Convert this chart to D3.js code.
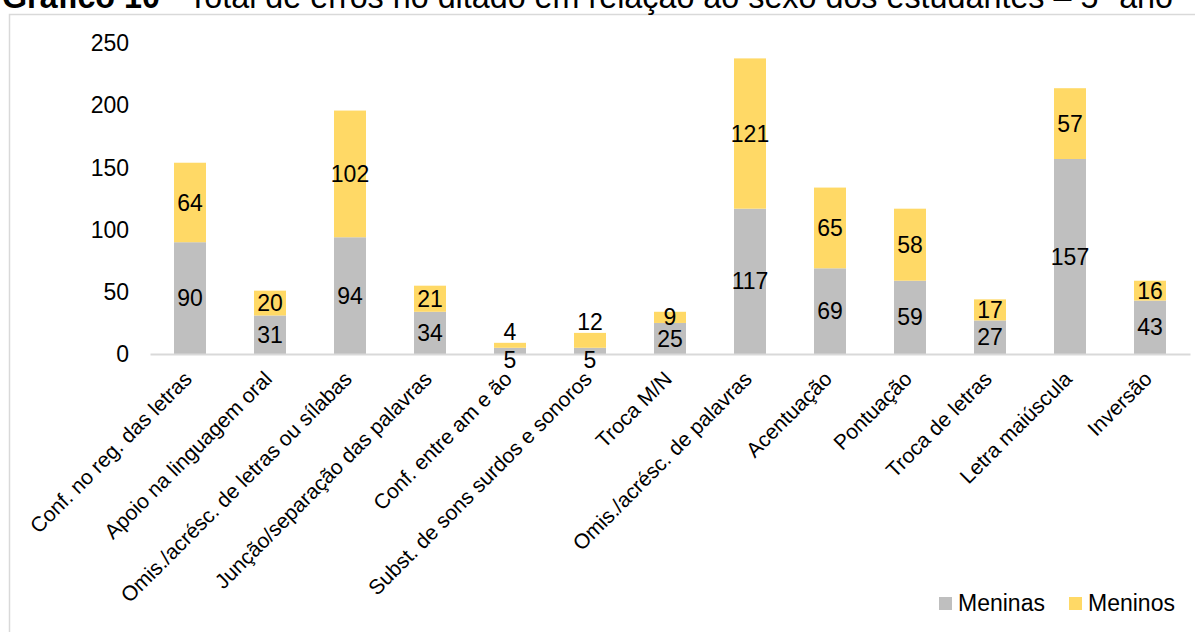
<!DOCTYPE html>
<html lang="pt">
<head>
<meta charset="utf-8">
<script src="https://cdn.jsdelivr.net/npm/d3@7"></script>
<style>
  html, body { margin: 0; padding: 0; background: #fff; }
  svg { display: block; font-family: "Liberation Sans", Arial, sans-serif; }
</style>
</head>
<body>
<svg id="chart" width="1195" height="632"></svg>
<script>
// Tipos de erro no ditado (eixo das categorias)
const categories = [
  "Conf. no reg. das letras",
  "Apoio na linguagem oral",
  "Omis./acrésc. de letras ou sílabas",
  "Junção/separação das palavras",
  "Conf. entre am e ão",
  "Subst. de sons surdos e sonoros",
  "Troca M/N",
  "Omis./acrésc. de palavras",
  "Acentuação",
  "Pontuação",
  "Troca de letras",
  "Letra maiúscula",
  "Inversão"
];
// Número de erros por sexo
const meninas = [90, 31, 94, 34, 5, 5, 25, 117, 69, 59, 27, 157, 43];
const meninos = [64, 20, 102, 21, 4, 12, 9, 121, 65, 58, 17, 57, 16];
const seriesNames = ["Meninas", "Meninos"];
const yTicks = [0, 50, 100, 150, 200, 250];

const colors = { Meninas: "#bfbfbf", Meninos: "#ffd966" };

const svg = d3.select("#chart");

// moldura da área do gráfico
svg.append("rect")
  .attr("x", 9.5).attr("y", 14.5)
  .attr("width", 1300).attr("height", 700)
  .attr("fill", "none").attr("stroke", "#d9d9d9").attr("stroke-width", 1.5);

// título
const title = svg.append("text")
  .attr("x", 2).attr("y", 8)
  .attr("font-size", 32.3).attr("fill", "#000");
title.append("tspan").attr("font-weight", "bold").text("Gráfico 10");
title.append("tspan").attr("fill", "#a6a6a6").text(" - ");
title.append("tspan").text("Total de erros no ditado em relação ao sexo dos estudantes – 5º ano");

const x = d3.scaleBand()
  .domain(categories)
  .range([150, 1190])
  .paddingInner(0.6)
  .paddingOuter(0.3);

const y = d3.scaleLinear()
  .domain([0, 250])
  .range([354, 43.5]);

const rows = categories.map((c, i) => ({ cat: c, Meninas: meninas[i], Meninos: meninos[i] }));
const stacked = d3.stack().keys(seriesNames)(rows);

// barras empilhadas
const layers = svg.append("g").selectAll("g")
  .data(stacked).join("g")
  .attr("fill", d => colors[d.key]);

layers.selectAll("rect")
  .data(d => d).join("rect")
  .attr("x", d => x(d.data.cat))
  .attr("y", d => y(d[1]))
  .attr("width", x.bandwidth())
  .attr("height", d => y(d[0]) - y(d[1]));

// eixo Y
const yAxis = svg.append("g")
  .attr("transform", "translate(150,0)")
  .call(d3.axisLeft(y).tickValues(yTicks).tickSize(0).tickPadding(21));
yAxis.select(".domain").remove();
yAxis.selectAll("text")
  .attr("font-size", 23).attr("fill", "#000")
  .attr("font-family", "Liberation Sans, Arial, sans-serif");

// eixo X
const xAxis = svg.append("g")
  .attr("transform", "translate(0,354)")
  .call(d3.axisBottom(x).tickSize(0).tickSizeOuter(0));
xAxis.select(".domain").attr("stroke", "#d9d9d9").attr("stroke-width", 2);
xAxis.selectAll("text")
  .attr("font-size", 21).attr("fill", "#000")
  .attr("font-family", "Liberation Sans, Arial, sans-serif")
  .attr("text-anchor", "end")
  .attr("dy", "0.35em")
  .attr("transform", "translate(-2,21) rotate(-45)")
  .attr("y", 0).attr("x", 0);

// rótulos de dados: centrados no segmento; quando os dois rótulos de uma
// coluna se sobrepõem, o de baixo desce abaixo do eixo e o de cima sobe
// acima da barra
const labels = svg.append("g")
  .attr("font-size", 23).attr("fill", "#000")
  .attr("text-anchor", "middle");

rows.forEach((r, i) => {
  const lower = stacked[0][i], upper = stacked[1][i];
  let cLow = (y(lower[0]) + y(lower[1])) / 2;
  let cUp = (y(upper[0]) + y(upper[1])) / 2;
  if (cLow - cUp < 18) {
    cLow = y(0) + 6;
    cUp = y(upper[1]) - 10.5;
  }
  const cx = x(r.cat) + x.bandwidth() / 2;
  [[lower, cLow], [upper, cUp]].forEach(([d, cy]) => {
    labels.append("text")
      .attr("x", cx)
      .attr("y", cy)
      .attr("dy", "0.35em")
      .text(d[1] - d[0]);
  });
});

// legenda
const legend = svg.append("g");
const legendX = [939, 1069];
seriesNames.forEach((name, i) => {
  legend.append("rect")
    .attr("x", legendX[i]).attr("y", 597)
    .attr("width", 13).attr("height", 13)
    .attr("fill", colors[name]);
  legend.append("text")
    .attr("x", legendX[i] + 19).attr("y", 611)
    .attr("font-size", 23).attr("fill", "#000")
    .text(name);
});
</script>
</body>
</html>
